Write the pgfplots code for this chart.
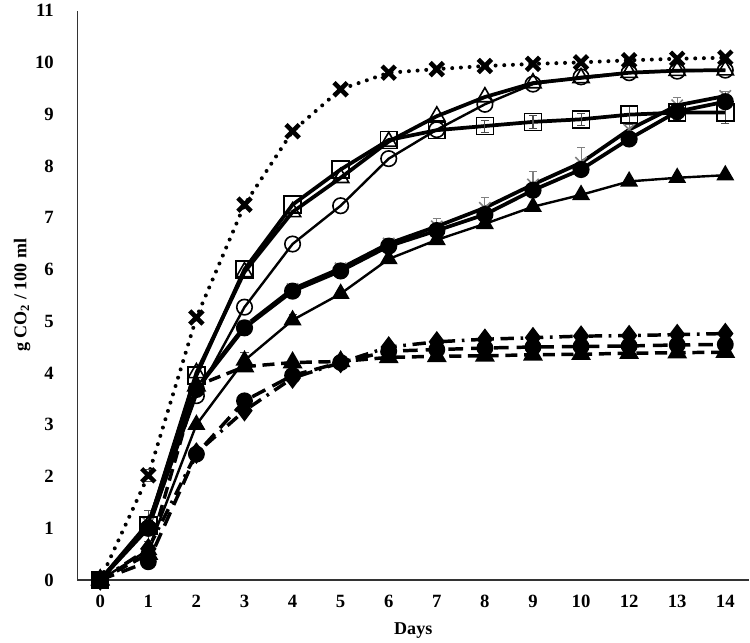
\documentclass[border=0pt]{standalone}
\usepackage{pgfplots}
\pgfplotsset{compat=1.18}
\usepackage{fontspec}
\setmainfont{Liberation Serif}
\begin{document}
\begin{tikzpicture}
\begin{axis}[
  scale only axis,
  width=503pt, height=426pt,
  xmin=-0.48, xmax=13.5,
  ymin=0, ymax=11,
  axis x line*=bottom, axis y line*=left,
  axis line style={-, line width=1pt, black!80},
  xtick={0,...,13},
  xticklabels={0,1,2,3,4,5,6,7,8,9,10,12,13,14},
  ytick={0,...,11},
  major tick length=0pt,
  /pgf/number format/assume math mode=true,
  ticklabel style={font=\fontsize{14}{15}\selectfont\bfseries},
  xticklabel style={yshift=-8pt},
  yticklabel style={xshift=-14pt},
  xlabel={Days},
  ylabel={g CO\textsubscript{2} / 100 ml},
  label style={font=\fontsize{13.5}{15}\selectfont\bfseries},
  xlabel style={yshift=-4pt},
  ylabel style={at={(axis description cs:-0.082,0.5)}, anchor=center},
  clip=false,
]
% dashed triangles
\addplot[black, line width=2.6pt, dash pattern=on 9pt off 5pt, mark=triangle*, mark size=6pt, mark options={solid}]
 coordinates {(0,0)(1,0.5)(2,3.75)(3,4.12)(4,4.2)(5,4.22)(6,4.3)(7,4.32)(8,4.33)(9,4.35)(10,4.36)(11,4.38)(12,4.39)(13,4.40)};
% dashed circles
\addplot[black, line width=2.6pt, dash pattern=on 11pt off 6pt, mark=*, mark size=5pt, mark options={solid}]
 coordinates {(0,0)(1,0.35)(2,2.43)(3,3.46)(4,3.95)(5,4.2)(6,4.42)(7,4.45)(8,4.48)(9,4.5)(10,4.51)(11,4.52)(12,4.54)(13,4.55)};
% dash-dot diamonds
\addplot[black, line width=2.6pt, dash pattern=on 10pt off 5pt on 2pt off 5pt, mark=diamond*, mark size=6pt, mark options={solid}]
 coordinates {(0,0)(1,0.6)(2,2.45)(3,3.27)(4,3.9)(5,4.2)(6,4.5)(7,4.6)(8,4.65)(9,4.68)(10,4.71)(11,4.72)(12,4.74)(13,4.76)};
% thin solid filled triangles
\addplot[black, line width=1.8pt, mark=triangle*, mark size=6pt,
  error bars/.cd, y dir=plus, y explicit, error mark=-, error bar style={line width=0.8pt, black!70}, error mark options={rotate=90,mark size=3pt, black!70}]
 coordinates {(0,0) (1,0.58) (2,3.0) (3,4.24) +- (0,0.15) (4,5.02) +- (0,0.12) (5,5.53) (6,6.2) (7,6.57) (8,6.88) (9,7.21) (10,7.44) (11,7.7) (12,7.77) (13,7.82)};
% gray x with error bars (thick black line)
\addplot[black, line width=2.8pt, mark=x, mark size=6pt, mark options={gray, line width=1.2pt},
  error bars/.cd, y dir=plus, y explicit, error mark=-, error bar style={line width=0.8pt, gray}, error mark options={rotate=90,mark size=3pt, gray}]
 coordinates {(0,0) (1,1.1) (2,3.7) (3,4.9) (4,5.62) +- (0,0.08) (5,6.02) +- (0,0.08) (6,6.5) +- (0,0.1) (7,6.83) +- (0,0.15) (8,7.19) +- (0,0.2) (9,7.64) +- (0,0.25) (10,8.06) +- (0,0.3) (11,8.7) +- (0,0.12) (12,9.17) +- (0,0.15) (13,9.35) +- (0,0.1)};
% filled circles thick
\addplot[black, line width=2.8pt, mark=*, mark size=5pt]
 coordinates {(0,0)(1,1.0)(2,3.68)(3,4.87)(4,5.58)(5,5.97)(6,6.45)(7,6.75)(8,7.06)(9,7.53)(10,7.93)(11,8.52)(12,9.05)(13,9.24)};
% open circles thin
\addplot[black, line width=1.8pt, mark=o, mark size=5.8pt, mark options={line width=1.2pt}]
 coordinates {(0,0)(1,1.0)(2,3.56)(3,5.27)(4,6.49)(5,7.23)(6,8.14)(7,8.7)(8,9.19)(9,9.58)(10,9.72)(11,9.8)(12,9.83)(13,9.85)};
% open squares thick
\addplot[black, line width=2.8pt, mark=square, mark size=6.3pt, mark options={line width=1.2pt},
  error bars/.cd, y dir=both, y explicit, error mark=-, error bar style={line width=0.8pt, black!70}, error mark options={rotate=90,mark size=3pt, black!70}]
 coordinates {(0,0) (1,1.05) +- (0,0.3) (2,3.95) (3,6.0) (4,7.25) (5,7.93) (6,8.5) (7,8.69) (8,8.77) +- (0,0.12) (9,8.85) +- (0,0.12) (10,8.9) +- (0,0.12) (11,8.99) +- (0,0.18) (12,9.03) +- (0,0.12) (13,9.03) +- (0,0.2)};
% open triangles thick
\addplot[black, line width=2.8pt, mark=triangle, mark size=7pt, mark options={line width=1.2pt}]
 coordinates {(0,0)(1,1.05)(2,4.0)(3,5.95)(4,7.11)(5,7.77)(6,8.47)(7,8.96)(8,9.33)(9,9.6)(10,9.7)(11,9.8)(12,9.84)(13,9.85)};
% dotted X
\addplot[black, line width=3pt, dash pattern=on 0pt off 6.5pt, line cap=round, mark=x, mark size=7pt, mark options={solid, line width=3.4pt, line cap=butt},
  error bars/.cd, y dir=both, y explicit, error mark=-, error bar style={line width=0.8pt, black!70}, error mark options={rotate=90,mark size=3pt, black!70}]
 coordinates {(0,0) (1,2.02) +- (0,0.12) (2,5.07) (3,7.25) (4,8.67) (5,9.48) (6,9.8) (7,9.87) (8,9.93) (9,9.97) (10,10.0) (11,10.04) (12,10.07) (13,10.09)};
% origin square
\addplot[black, only marks, mark=square*, mark size=6pt] coordinates {(0,0)};
\end{axis}
\path (current bounding box.west) ++(-7pt,0) coordinate (padL);
\path (padL);
\end{tikzpicture}
\end{document}
